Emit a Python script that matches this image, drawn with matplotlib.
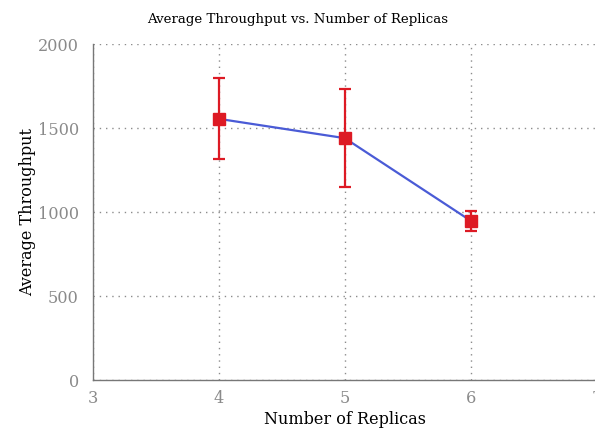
import matplotlib
matplotlib.use("Agg")
import matplotlib.pyplot as plt

replicas = [4, 5, 6]
throughput_mean = [1555, 1440, 948]
throughput_err = [242, 290, 58]

x_ticks = [3, 4, 5, 6, 7]
y_ticks = [0, 500, 1000, 1500, 2000]

plt.rcParams['font.family'] = ['DejaVu Serif']

fig = plt.figure(figsize=(5.95, 4.28), dpi=100)
ax = fig.add_axes([0.156, 0.112, 0.847, 0.785])

ax.plot(replicas, throughput_mean, color='#4a5bd6', linewidth=1.6, zorder=2)
ax.errorbar(replicas, throughput_mean, yerr=throughput_err, fmt='s',
            color='#dd1a24', ecolor='#dd1a24', markersize=8, elinewidth=1.6,
            capsize=4.5, capthick=1.6, zorder=3)

ax.set_xlim(3, 7)
ax.set_ylim(0, 2000)
ax.set_xticks(x_ticks)
ax.set_yticks(y_ticks)

ax.grid(True, color='#8c8c8c', linestyle=(0, (1, 3.5)), linewidth=1)
ax.set_axisbelow(True)

for side in ['top', 'right']:
    ax.spines[side].set_visible(False)
for side in ['left', 'bottom']:
    ax.spines[side].set_color('#777777')
    ax.spines[side].set_linewidth(1)

ax.tick_params(length=0, labelsize=11.6, labelcolor='#8a8a8a')
ax.tick_params(axis='y', pad=10)
ax.tick_params(axis='x', pad=7)

fig.suptitle('Average Throughput vs. Number of Replicas', fontsize=9.6,
             x=0.5, y=0.955, va='center')
ax.set_xlabel('Number of Replicas', fontsize=11.5, labelpad=3)
ax.set_ylabel('Average Throughput', fontsize=11.5, labelpad=1)

fig.savefig('out.png', dpi=100)
